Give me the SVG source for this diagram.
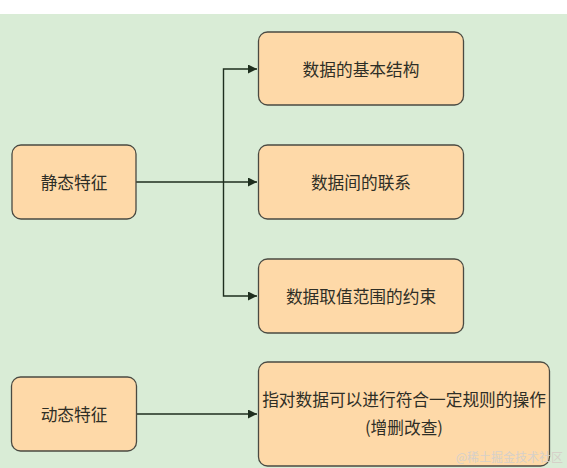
<svg xmlns="http://www.w3.org/2000/svg" width="567" height="468" viewBox="0 0 567 468">
<style>
.node{fill:#fed9a8;stroke:#4a4a42;stroke-width:1.3}
.lbl{font-family:"Noto Sans CJK SC","Liberation Sans",sans-serif;font-size:16.7px;fill:#2e2e26;text-anchor:middle;dominant-baseline:central}
.edge{fill:none;stroke:#1e2e1e;stroke-width:1.4}
.wm{font-family:"Noto Sans CJK SC","Liberation Serif",serif;font-size:12px;fill:#d6d0c8;text-anchor:end;dominant-baseline:central}
</style>
<defs>
<marker id="arr" viewBox="0 0 10 10" refX="10" refY="5" markerWidth="9" markerHeight="9" markerUnits="userSpaceOnUse" orient="auto">
<path d="M0,0 L10,5 L0,10 Z" fill="#1e2e1e"/>
</marker>
</defs>
<rect x="0" y="0" width="567" height="468" fill="#ffffff"/>
<rect x="0" y="14" width="567" height="454" fill="#d9ecd6"/>
<g id="connectors">
<path class="edge" d="M136,182 L257,182" marker-end="url(#arr)"/>
<path class="edge" d="M223.5,182 L223.5,69 L257,69" marker-end="url(#arr)"/>
<path class="edge" d="M223.5,182 L223.5,296 L257,296" marker-end="url(#arr)"/>
<path class="edge" d="M136,414 L257,414" marker-end="url(#arr)"/>
</g>
<g id="static">
<rect class="node" x="12" y="145" width="124" height="74" rx="9"/>
<text class="lbl" x="74" y="182">静态特征</text>
</g>
<g id="structure">
<rect class="node" x="258.5" y="32" width="205" height="73" rx="9"/>
<text class="lbl" x="361" y="69">数据的基本结构</text>
</g>
<g id="relation">
<rect class="node" x="258.5" y="145" width="205" height="74" rx="9"/>
<text class="lbl" x="361" y="182">数据间的联系</text>
</g>
<g id="constraint">
<rect class="node" x="258.5" y="259" width="205" height="74" rx="9"/>
<text class="lbl" x="361" y="296">数据取值范围的约束</text>
</g>
<g id="dynamic">
<rect class="node" x="11.5" y="377" width="125" height="74" rx="9"/>
<text class="lbl" x="74" y="414">动态特征</text>
</g>
<g id="operation">
<rect class="node" x="258.5" y="362" width="291" height="104" rx="9"/>
<text class="lbl" x="404" y="399">指对数据可以进行符合一定规则的操作</text>
<text class="lbl" x="404" y="427">(增删改查)</text>
</g>
<text class="wm" x="563" y="456">@稀土掘金技术社区</text>
</svg>
